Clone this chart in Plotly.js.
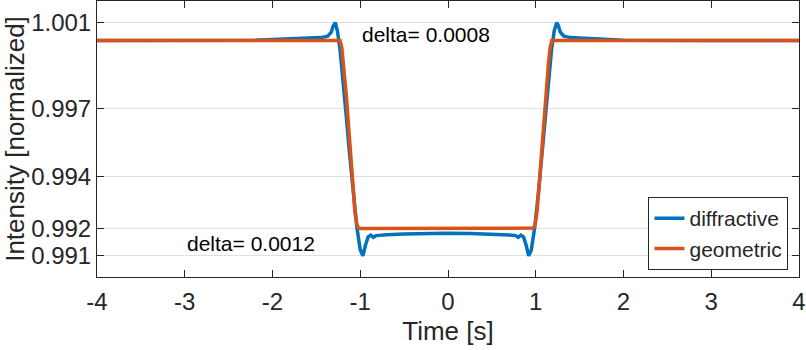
<!DOCTYPE html>
<html>
<head>
<meta charset="utf-8">
<script src="https://cdn.plot.ly/plotly-3.0.1.min.js"></script>
<style>
  html, body { margin: 0; padding: 0; background: #fff; }
  #chart { width: 806px; height: 350px; }
</style>
</head>
<body>
<div id="chart"></div>
<script>
// diffractive light curve
var diffX = [-4, -3, -2.2, -2.0, -1.9, -1.8, -1.7, -1.6, -1.5, -1.45, -1.4, -1.37, -1.33, -1.31, -1.285,
  -1.26, -1.23, -1.2, -1.16, -1.12, -1.08, -1.04, -1.0, -0.97, -0.94, -0.91, -0.88, -0.85, -0.82,
  -0.78, -0.7, -0.5, -0.3, -0.023, 0.25, 0.45, 0.65, 0.73, 0.77, 0.8, 0.83, 0.86, 0.89, 0.92,
  0.95, 0.99, 1.03, 1.07, 1.11, 1.15, 1.18, 1.21, 1.24, 1.26, 1.28, 1.32, 1.35, 1.4, 1.5, 1.6,
  1.7, 1.8, 1.9, 2.0, 3, 4];
var diffY = [1.0, 1.0, 1.00001, 1.00004, 1.00005, 1.00007, 1.00006, 1.0001, 1.0001, 1.00012, 1.00016, 1.00018, 1.00035, 1.0006, 1.00076,
  1.0004, 0.9996, 0.9985, 0.9968, 0.9951, 0.9935, 0.9921, 0.9911, 0.99084, 0.9913, 0.99165, 0.99172, 0.99163, 0.9917,
  0.99172, 0.99174, 0.99177, 0.99179, 0.9918, 0.99179, 0.99177, 0.99174, 0.99172, 0.9917, 0.99163, 0.99172, 0.99165, 0.9913, 0.99084,
  0.9911, 0.9921, 0.9935, 0.9951, 0.9968, 0.9985, 0.9996, 1.0004, 1.00076, 1.0006, 1.00035, 1.00018, 1.00016, 1.00012, 1.0001, 1.00008,
  1.00007, 1.00005, 1.00003, 1.00001, 1.0, 1.0];

// geometric light curve
var geoX = [-4, -1.23, -1.21, -1.19, -1.157, -1.126, -1.092, -1.06, -1.04, -1.02, -1.0,
  0.954, 0.974, 0.994, 1.014, 1.046, 1.08, 1.111, 1.144, 1.164, 1.184, 4];
var geoY = [1.0, 1.0, 0.9997, 0.999, 0.99759, 0.996, 0.99419, 0.9927, 0.9922, 0.99202, 0.992,
  0.992, 0.99202, 0.9922, 0.9927, 0.99419, 0.996, 0.99759, 0.999, 0.9997, 1.0, 1.0];

// y ticks sit on measured levels, labelled with 3 decimals
var yTickVals = [0.99084, 0.992, 0.99422, 0.9971, 1.00075];
var yTickText = ['0.991', '0.992', '0.994', '0.997', '1.001'];
var xTickVals = [-4, -3, -2, -1, 0, 1, 2, 3, 4];
var xTickText = ['-4', '-3', '-2', '-1', '0', '1', '2', '3', '4'];

var notes = [
  {x: -1.0, y: 1.00025, text: 'delta= 0.0008'},
  {x: -3.0, y: 0.99137, text: 'delta= 0.0012'}
];

var font = 'Liberation Sans, Arial, sans-serif';
var ink = '#262626';

var traces = [
  {
    x: diffX, y: diffY, name: 'diffractive',
    type: 'scatter', mode: 'lines',
    line: {color: '#0072BD', width: 3.5}
  },
  {
    x: geoX, y: geoY, name: 'geometric',
    type: 'scatter', mode: 'lines',
    line: {color: '#D95319', width: 3.5}
  }
];

var layout = {
  width: 806,
  height: 350,
  margin: {l: 97, r: 7, t: 1, b: 73},
  paper_bgcolor: '#fff',
  plot_bgcolor: '#fff',
  font: {family: font, color: ink},
  xaxis: {
    range: [-4, 4],
    tickvals: xTickVals, ticktext: xTickText,
    ticks: 'inside', ticklen: 7, tickcolor: ink,
    mirror: 'allticks', showline: true, linecolor: ink, linewidth: 1,
    showgrid: false, zeroline: false,
    tickfont: {size: 24, color: ink},
    ticklabelstandoff: 3,
    title: {text: 'Time [s]', font: {size: 26, color: ink}, standoff: 8}
  },
  yaxis: {
    range: [0.98994, 1.001677],
    tickvals: yTickVals, ticktext: yTickText,
    ticks: 'inside', ticklen: 7, tickcolor: ink,
    mirror: 'allticks', showline: true, linecolor: ink, linewidth: 1,
    showgrid: true, gridcolor: '#dfdfdf', zeroline: false,
    tickfont: {size: 24, color: ink},
    title: {text: 'Intensity [normalized]', font: {size: 26, color: ink}, standoff: 6}
  },
  legend: {
    x: 0.985, y: 0.025, xanchor: 'right', yanchor: 'bottom',
    bgcolor: '#fff', bordercolor: ink, borderwidth: 1,
    font: {size: 21, color: ink}
  },
  annotations: notes.map(function (n) {
    return {
      x: n.x, y: n.y, xref: 'x', yref: 'y', text: n.text,
      showarrow: false, xanchor: 'left', yanchor: 'middle',
      font: {size: 21, color: '#000'}
    };
  })
};

Plotly.newPlot('chart', traces, layout, {staticPlot: true});
</script>
</body>
</html>
